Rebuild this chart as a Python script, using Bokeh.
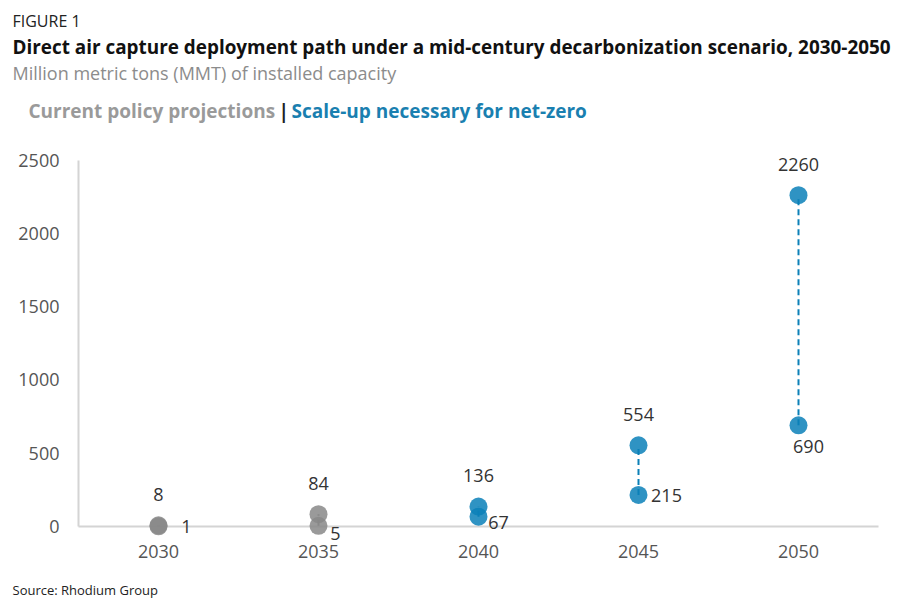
from bokeh.plotting import figure
from bokeh.models import (ColumnDataSource, Range1d, FixedTicker, Label,
                          LinearAxis, CustomJSTickFormatter)
from bokeh.transform import factor_cmap
from bokeh.embed import file_html
from bokeh.resources import INLINE
from bokeh.core.properties import value

# ---- data ----
years = [2030, 2035, 2040, 2045, 2050]
low_values = [1, 5, 67, 215, 690]
high_values = [8, 84, 136, 554, 2260]
scenario = ["Current policy", "Current policy", "Net-zero", "Net-zero", "Net-zero"]
y_ticks = [0, 500, 1000, 1500, 2000, 2500]

# ---- label offsets for the lower value (screen pixels) ----
low_dx = [28, 17, 20, 28, 10]
low_dy = [0, 8, 6, 1, 21]

GRAY = "#888888"
BLUE = "#0b80b8"
FONT = "Open Sans"

# ---- layout: page pixel -> data mapping (frame fills the whole figure) ----
W, H = 906, 606
PAGE_X0, PAGE_Y0 = 0, 0
X_PX0, X_PX_PER_YEAR = 158, 32.0      # 2030 at page x 158, 160 px per 5 yrs
Y_PX0, Y_PX_PER_UNIT = 526, 366.5 / 2500


def px2x(px):
    return years[0] + (px - X_PX0) / X_PX_PER_YEAR


def py2y(py):
    return (Y_PX0 - py) / Y_PX_PER_UNIT


src = ColumnDataSource(dict(
    year=years, low=low_values, high=high_values, scenario=scenario,
    low_txt=[str(v) for v in low_values], high_txt=[str(v) for v in high_values],
    low_dx=low_dx, low_dy=low_dy,
))

p = figure(width=W, height=H, output_backend="svg", toolbar_location=None,
           x_range=Range1d(px2x(PAGE_X0), px2x(PAGE_X0 + W)),
           y_range=Range1d(py2y(PAGE_Y0 + H), py2y(PAGE_Y0)),
           x_axis_location=None, y_axis_location=None,
           min_border=0, title=None)
p.outline_line_color = None
p.background_fill_color = "white"
p.border_fill_color = "white"
p.xgrid.grid_line_color = None
p.ygrid.grid_line_color = None

# y axis drawn inside the frame at page x = 78
yax = LinearAxis(fixed_location=px2x(78), bounds=(0, 2500),
                 ticker=FixedTicker(ticks=y_ticks))
yax.axis_line_color = "#d4d4d4"
yax.axis_line_width = 2
yax.major_tick_line_color = None
yax.minor_tick_line_color = None
yax.major_tick_out = 0
yax.major_tick_in = 0
yax.major_label_standoff = 19
yax.major_label_text_font = FONT
yax.major_label_text_font_size = "18px"
yax.major_label_text_color = "#555555"
yax.level = "underlay"
p.add_layout(yax, "left")

# x axis along zero, from page x 78 to 878
xax = LinearAxis(fixed_location=0, bounds=(px2x(78), px2x(878)),
                 ticker=FixedTicker(ticks=years),
                 formatter=CustomJSTickFormatter(code="return String(tick)"))
xax.axis_line_color = "#d4d4d4"
xax.axis_line_width = 2
xax.major_tick_line_color = None
xax.minor_tick_line_color = None
xax.major_tick_out = 0
xax.major_tick_in = 0
xax.major_label_standoff = 18
xax.major_label_text_font = FONT
xax.major_label_text_font_size = "18px"
xax.major_label_text_color = "#555555"
xax.level = "underlay"
p.add_layout(xax, "below")

cmap = factor_cmap("scenario", palette=[GRAY, BLUE],
                   factors=["Current policy", "Net-zero"])

p.scatter("year", "low", source=src, size=18, fill_color=cmap,
          line_color=None, fill_alpha=0.85)
p.scatter("year", "high", source=src, size=18, fill_color=cmap,
          line_color=None, fill_alpha=0.85)
p.segment(x0="year", y0="low", x1="year", y1="high", source=src,
          line_color=cmap, line_width=2, line_dash="6 4")

p.text("year", "high", text="high_txt", source=src, y_offset=-31,
       text_align="center", text_baseline="middle",
       text_font=value(FONT), text_font_size="18px", text_color="#333333")
p.text("year", "low", text="low_txt", source=src, x_offset="low_dx",
       y_offset="low_dy", text_align="center", text_baseline="middle",
       text_font=value(FONT), text_font_size="18px", text_color="#333333")


def add_text(txt, px, py, size, color, style="normal"):
    p.add_layout(Label(x=px2x(px), y=py2y(py), text=txt, text_font=FONT,
                       text_font_size=size, text_color=color,
                       text_font_style=style, text_align="left",
                       text_baseline="middle"))


add_text("FIGURE 1", 12, 20, "16px", "#222222")
add_text("Direct air capture deployment path under a mid-century decarbonization scenario, 2030-2050",
         12, 46, "18.9px", "#111111", "bold")
add_text("Million metric tons (MMT) of installed capacity", 12, 72, "18px", "#8c8c8c")
add_text("Current policy projections", 28, 110, "19px", "#9a9a9a", "bold")
add_text("|", 278, 110, "19px", "#222222", "bold")
add_text("Scale-up necessary for net-zero", 291, 110, "19px", "#1a7fb0", "bold")
add_text("Source: Rhodium Group", 12, 589, "13px", "#222222")

open("out.html", "w").write(file_html(p, INLINE))
